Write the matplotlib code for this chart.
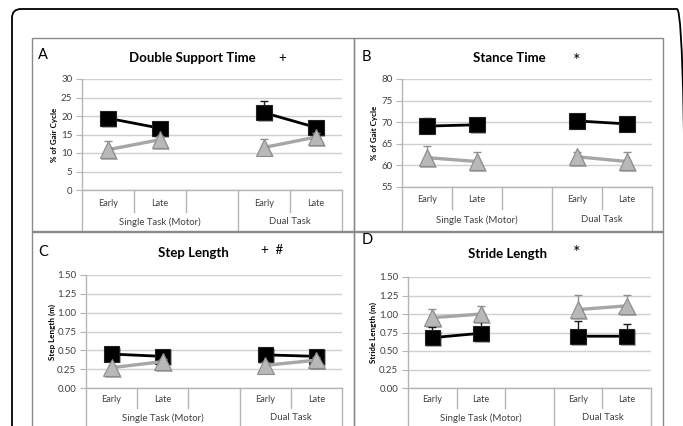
import matplotlib
matplotlib.use("Agg")
import matplotlib.pyplot as plt
import matplotlib.patheffects as pe
import matplotlib.transforms as mtransforms
from matplotlib.patches import FancyBboxPatch, Rectangle
from matplotlib.ticker import FormatStrFormatter
import numpy as np

nan = np.nan
W, H = 683, 426

plt.rcParams["font.family"] = ["Lato", "DejaVu Sans"]

categories = ["Early", "Late", "", "Early", "Late"]
groups = ["Single Task (Motor)", "Dual Task"]

# black squares / grey triangles, per category (blank slot = nan)
dst_black = [19.4, 16.7, nan, 20.9, 16.9]
dst_black_err = [1.0, 1.0, nan, 3.2, 1.0]
dst_grey = [10.9, 13.6, nan, 11.5, 14.3]
dst_grey_err = [2.4, 1.0, nan, 2.3, 1.0]

st_black = [69.1, 69.4, nan, 70.3, 69.6]
st_black_err = [1.9, 0.8, nan, 0.8, 0.8]
st_grey = [61.8, 60.9, nan, 62.0, 60.9]
st_grey_err = [2.6, 2.2, nan, 1.0, 2.1]

sl_black = [0.45, 0.42, nan, 0.44, 0.42]
sl_black_err = [0.04, 0.04, nan, 0.04, 0.04]
sl_grey = [0.27, 0.35, nan, 0.30, 0.37]
sl_grey_err = [0.04, 0.04, nan, 0.04, 0.04]

str_black = [0.68, 0.74, nan, 0.70, 0.70]
str_black_err = [0.14, 0.16, nan, 0.20, 0.17]
str_grey = [0.95, 1.00, nan, 1.06, 1.11]
str_grey_err = [0.12, 0.11, nan, 0.20, 0.15]

C_GRID = "#d0d0d0"
C_AXIS = "#b5b5b5"
C_TXT = "#404040"


def frac(x, y):
    return x / W, 1 - y / H


def rect(l, t, r, b):
    return [l / W, 1 - b / H, (r - l) / W, (b - t) / H]


fig = plt.figure(figsize=(W / 100, H / 100), dpi=100)

# outer rounded frame, drawn in pixels (origin bottom-left)
px = mtransforms.IdentityTransform()
fig.patches.append(FancyBboxPatch((12, H - 450), 686 - 12, 450 - 9,
                                  boxstyle="round,pad=0,rounding_size=9",
                                  transform=px, fill=False, ec="black", lw=1.3))
# panel boxes
for l, t, r, b in [(32, 38, 354, 231), (354, 38, 663, 231),
                   (32, 232, 354, 460), (354, 232, 663, 460)]:
    fig.patches.append(Rectangle(frac(l, b), (r - l) / W, (b - t) / H,
                                 transform=fig.transFigure, fill=False,
                                 ec="#8a8a8a", lw=1.0))

panels = [
    dict(box=(82, 79, 342, 190), ylim=(0, 30), step=5, fmt="%d",
         ylabel="% of Gair Cycle", ylx=55, black=dst_black, berr=dst_black_err,
         grey=dst_grey, gerr=dst_grey_err, lab="A", labxy=(38, 55),
         title="Double Support Time", txy=(192, 58), mark="+", mxy=(282, 58),
         msize=9.5, off=(13, 32), short=22, long=42),
    dict(box=(402, 79, 652, 187), ylim=(55, 80), step=5, fmt="%d",
         ylabel="% of Gait Cycle", ylx=375, black=st_black, berr=st_black_err,
         grey=st_grey, gerr=st_grey_err, lab="B", labxy=(362, 57),
         title="Stance Time", txy=(509, 58), mark="*", mxy=(577, 61),
         msize=13, off=(13, 33), short=22, long=44),
    dict(box=(86, 275, 342, 388), ylim=(0, 1.5), step=0.25, fmt="%.2f",
         ylabel="Step Length (m)", ylx=52, black=sl_black, berr=sl_black_err,
         grey=sl_grey, gerr=sl_grey_err, lab="C", labxy=(38, 252),
         title="Step Length", txy=(193, 253), mark="+  #", mxy=(272, 250),
         msize=9.5, off=(11, 30), short=20, long=45),
    dict(box=(408, 277, 651, 388), ylim=(0, 1.5), step=0.25, fmt="%.2f",
         ylabel="Stride Length (m)", ylx=373, black=str_black, berr=str_black_err,
         grey=str_grey, gerr=str_grey_err, lab="D", labxy=(362, 240),
         title="Stride Length", txy=(508, 254), mark="*", mxy=(577, 253),
         msize=13, off=(11, 30), short=20, long=45),
]

shadow = [pe.SimplePatchShadow(offset=(1.2, -1.2), shadow_rgbFace="k", alpha=0.3),
          pe.Normal()]

x = np.arange(len(categories))
for p in panels:
    l, t, r, b = p["box"]
    ax = fig.add_axes(rect(l, t, r, b))
    ax_h = b - t

    bl = np.array(p["black"])
    gr = np.array(p["grey"])
    ax.errorbar(x, bl, yerr=[np.zeros_like(bl), np.array(p["berr"])], fmt="none",
                ecolor="#1a1a1a", elinewidth=1.0, capsize=3, capthick=1.0, zorder=3)
    ax.plot(x, bl, color="black", lw=2.0, marker="s", ms=11, mfc="black",
            mec="#222222", mew=0.8, zorder=4, path_effects=shadow, clip_on=False)
    ax.errorbar(x, gr, yerr=[np.zeros_like(gr), np.array(p["gerr"])], fmt="none",
                ecolor="#909090", elinewidth=1.0, capsize=3, capthick=1.0, zorder=5)
    ax.plot(x, gr, color="#a6a6a6", lw=2.4, marker="^", ms=12, mfc="#b8b8b8",
            mec="#8c8c8c", mew=0.8, zorder=6, path_effects=shadow, clip_on=False)

    y0, y1 = p["ylim"]
    ax.set_ylim(y0, y1)
    ax.set_yticks(np.arange(y0, y1 + p["step"] / 2, p["step"]))
    ax.yaxis.set_major_formatter(FormatStrFormatter(p["fmt"]))
    ax.set_xlim(-0.5, len(categories) - 0.5)
    ax.set_xticks([])
    ax.grid(axis="y", color=C_GRID, lw=1.0)
    ax.set_axisbelow(True)
    for s in ("top", "right"):
        ax.spines[s].set_visible(False)
    for s in ("left", "bottom"):
        ax.spines[s].set_color(C_AXIS)
        ax.spines[s].set_linewidth(1.0)
    ax.tick_params(axis="y", length=4, width=0.8, color=C_AXIS, labelsize=7,
                   labelcolor=C_TXT, pad=3)

    fig.text(*frac(p["ylx"], (t + b) / 2), p["ylabel"], rotation=90,
             ha="center", va="center", fontsize=5.8, fontweight="bold")

    # multi-level category axis
    tr = ax.get_xaxis_transform()
    lab_tr = mtransforms.offset_copy(tr, fig=fig, y=-p["off"][0], units="dots")
    grp_tr = mtransforms.offset_copy(tr, fig=fig, y=-p["off"][1], units="dots")
    for xi, c in zip(x, categories):
        ax.text(xi, 0, c, transform=lab_tr, ha="center", va="center",
                fontsize=6.6, color=C_TXT)
    for xc, g in zip([1.0, 3.5], groups):
        ax.text(xc, 0, g, transform=grp_tr, ha="center", va="center",
                fontsize=6.9, color=C_TXT)
    for xb in [0.5, 1.5, 3.5]:
        ax.plot([xb, xb], [0, -p["short"] / ax_h], transform=tr, color=C_AXIS,
                lw=1.0, clip_on=False)
    for xb in [-0.5, 2.5, 4.5]:
        ax.plot([xb, xb], [0, -p["long"] / ax_h], transform=tr, color=C_AXIS,
                lw=1.0, clip_on=False)

    fig.text(*frac(*p["labxy"]), p["lab"], ha="left", va="center", fontsize=10.5)
    fig.text(*frac(*p["txy"]), p["title"], ha="center", va="center",
             fontsize=9.5, fontweight="bold")
    fig.text(*frac(*p["mxy"]), p["mark"], ha="center", va="center",
             fontsize=p["msize"])

fig.savefig("out.png", dpi=100)
